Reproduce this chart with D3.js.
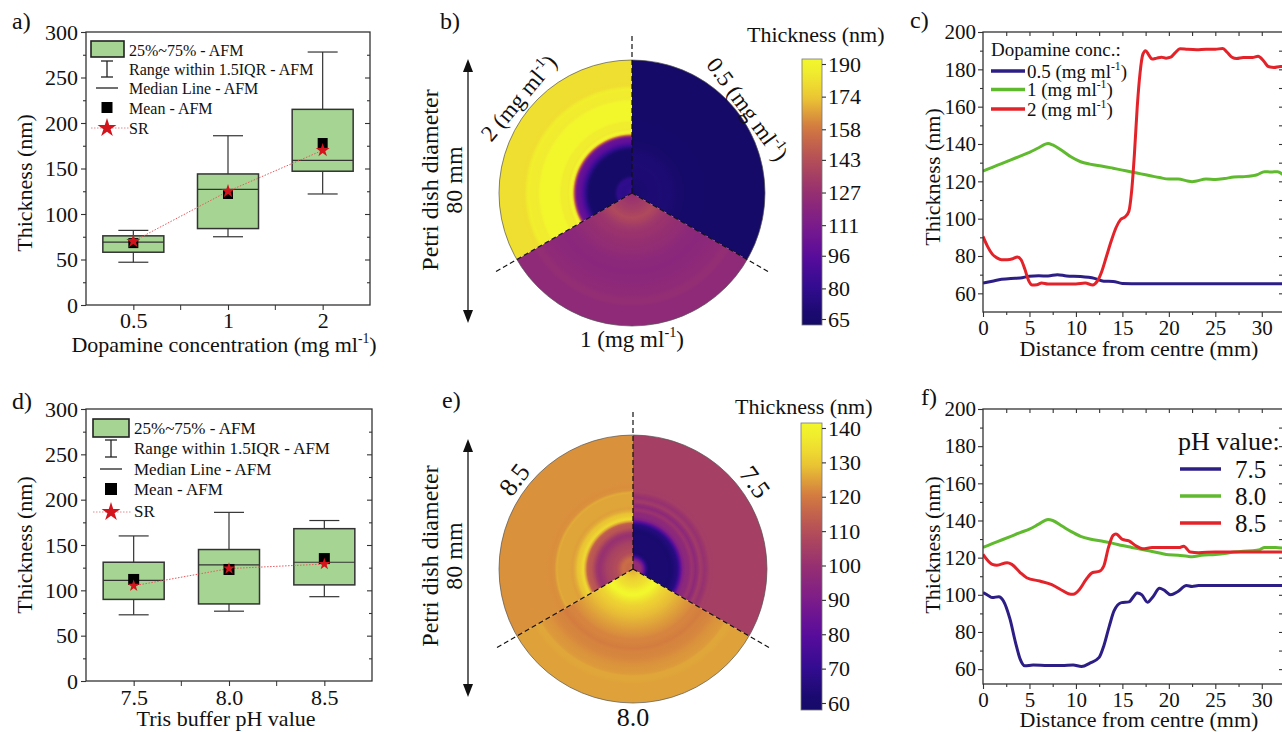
<!DOCTYPE html>
<html>
<head>
<meta charset="utf-8">
<script src="https://cdn.jsdelivr.net/npm/d3@7"></script>
<style>
  body { margin: 0; background: #fff; }
  svg text { font-family: "Liberation Serif", "Times New Roman", serif; fill: #111; }
</style>
</head>
<body>
<svg id="fig" width="1282" height="732"></svg>
<script>
// ---- panel a: box plots vs dopamine concentration ----
const concLabels = ["0.5", "1", "2"];
const concLow = [47, 75, 122];
const concQ1 = [58, 84, 147];
const concMedian = [69, 127, 159];
const concQ3 = [76, 144, 215];
const concHigh = [82, 186, 278];
const concMean = [68, 122, 178];
const concSR = [70, 125, 170];

// ---- panel d: box plots vs Tris buffer pH ----
const phLabels = ["7.5", "8.0", "8.5"];
const phLow = [73, 77, 93];
const phQ1 = [90, 85, 106];
const phMedian = [111, 128, 131];
const phQ3 = [131, 145, 168];
const phHigh = [160, 186, 177];
const phMean = [112, 123, 135];
const phSR = [105, 124, 129];

// ---- radial thickness profiles [distance (mm), thickness (nm)] ----
const prof05 = [[0,65.5],[1,66.5],[2,67.5],[3,68],[4,68.2],[5,69.2],[6,69.4],[7,69.3],[8,70],[9,69.3],[10.5,69],[12,68],[13,66.5],[14,66.4],[15,65.3],[17,65.2],[20,65.2],[25,65.1],[30,65.1],[32.5,65.1]];
const prof1 = [[0,125.5],[1,127.5],[2,129.5],[3,131.5],[4,133.5],[5,135.5],[6,138],[7,140.3],[7.5,139.5],[8.5,136.5],[9.5,133],[10.5,130.5],[11.5,129.2],[13,128],[14,127],[15,126],[16,125],[17,124],[18,123],[19,122],[20,121.2],[21,121.2],[22,120.2],[22.5,119.8],[23,120.2],[24,121.2],[25,121],[26,121.5],[27,122.3],[28,122.5],[29,123],[29.5,123.5],[30.3,125.2],[31,125],[31.7,125.2],[32.5,122.5]];
const prof2 = [[0,90.5],[0.5,85],[1,81],[1.5,79],[2,78],[2.6,78],[3.2,78.5],[3.7,79.5],[4.1,78],[4.5,73],[4.9,67],[5.3,64.5],[5.8,64.6],[6.3,65.5],[7,65],[8,65],[9,65],[10,65],[11,65.5],[11.8,64.5],[12.3,66.5],[12.8,72],[13.3,80],[13.8,88],[14.3,95],[14.8,99.5],[15.3,101],[15.7,104],[16,115],[16.3,135],[16.6,160],[16.9,178],[17.2,188],[17.5,190],[17.8,188],[18.2,185.5],[18.7,186],[19.2,186.5],[19.7,186],[20.2,186.5],[20.7,189],[21.2,191],[22,190.7],[23,190.5],[24,190.7],[25,190.7],[25.8,191.2],[26.3,189],[26.8,186.5],[27.3,185.8],[28,186.3],[29,186.3],[29.6,187],[30.2,184.5],[30.7,181.5],[31.3,181],[32,181.5],[32.5,181.5]];
const prof75 = [[0,101.2],[0.6,99.5],[1,98.5],[1.7,99],[2.2,96.7],[2.9,87],[3.5,74.3],[4,65.4],[4.5,61.8],[5.4,62.2],[7,62],[8.5,62],[9.7,62.2],[10.6,61.4],[11.5,63.2],[12.5,66.3],[13,72.5],[13.6,83.3],[14.1,91.3],[14.9,95.8],[15.7,96.2],[16.6,101],[17.1,100],[17.7,96],[18.3,99],[19,103.5],[19.5,102.5],[20.2,100],[20.9,101.5],[21.9,105],[22.5,104.5],[23.2,105],[25,105],[28,105],[30,105],[32.5,105]];
const prof80 = [[0,125.5],[1,127.5],[2,129.5],[3,131.5],[4,133.5],[5,135.3],[6,138],[7,140.5],[7.5,140],[8.5,137],[9.5,134],[10.5,131.5],[11.5,130],[13,128.7],[14,127.7],[15,126.5],[16,125.5],[17,124.5],[18,123.5],[19,122.5],[20,121.5],[21,121.3],[22,120.7],[22.5,120.5],[23.5,121.3],[25,121.7],[26,122.2],[27,123],[28,123.5],[29,123.7],[29.8,124.3],[30.3,125.5],[31.5,125.5],[32.5,125]];
const prof85 = [[0,121.8],[1,116.4],[1.5,115.9],[2.6,117.3],[3.1,116.4],[4,112],[4.7,109.2],[6.1,107.4],[7.4,105.5],[8.3,103],[9.2,100.6],[9.7,100.3],[10.4,103],[11.1,108.3],[11.8,112],[12.5,112.6],[13,115.5],[13.5,125.4],[14,132],[14.3,132.7],[15,129.8],[15.7,129],[16.5,126.2],[17.2,124.8],[18.2,125.4],[19.7,125.4],[21.1,125.4],[21.6,126.2],[22.3,123],[23.2,122.7],[25,123],[28,123],[30,123],[32.5,123]];

// ---- colour bar tick labels ----
const cbTicksB = [65, 80, 96, 111, 127, 143, 158, 174, 190];
const cbTicksE = [60, 70, 80, 90, 100, 110, 120, 130, 140];

const FONT = '"Liberation Serif", "Times New Roman", serif';
const svg = d3.select("#fig");
const defs = svg.append("defs");
svg.append("rect").attr("width", 1282).attr("height", 732).attr("fill", "#fff");

const ink = "#333";
const boxFill = "#a6d593";
const starColor = "#d3141c";
const lineBlue = "#2d1e85", lineGreen = "#5fba2e", lineRed = "#e3232a";
const dishMM = 38; // radius of the drawn dish in mm

const plasmaLike = d3.piecewise(d3.interpolateRgb, ["#150a68", "#320c90", "#5a0c9c", "#7c1c8a", "#973070", "#b44e58", "#d27840", "#eccb33", "#f2f72c"]);

function styleAxis(sel, fs) {
  sel.attr("font-size", fs).attr("font-family", null);
  sel.select(".domain").remove();
  sel.selectAll(".tick line").attr("stroke", ink).attr("stroke-width", 1.1);
}

function mgText(t, prefix, size) {
  t.append("tspan").text(prefix + "(mg ml");
  t.append("tspan").attr("dy", -size * 0.42).attr("font-size", size * 0.62).text("-1");
  t.append("tspan").attr("dy", size * 0.42).text(")");
}

function panelLabel(x, y, s) {
  svg.append("text").attr("x", x).attr("y", y).attr("font-size", 24).text(s);
}

// ================= box plot panels =================
function boxPanel(o) {
  const g = svg.append("g");
  const x = d3.scalePoint().domain(o.cats).range([o.left, o.right]).padding(0.5);
  const y = d3.scaleLinear().domain([0, 300]).range([o.bottom, o.top]);

  g.append("g").attr("transform", `translate(${o.left},0)`)
    .call(d3.axisLeft(y).tickValues(d3.range(0, 301, 50)).tickSize(5).tickPadding(3))
    .call(styleAxis, 22);
  g.append("g").attr("transform", `translate(${o.left},0)`)
    .call(d3.axisLeft(y).tickValues(d3.range(25, 300, 50)).tickSize(3).tickFormat(""))
    .call(styleAxis, 0);
  g.append("g").attr("transform", `translate(${o.right},0)`)
    .call(d3.axisLeft(y).tickValues(d3.range(50, 300, 50)).tickSize(5).tickFormat(""))
    .call(styleAxis, 0);
  g.append("g").attr("transform", `translate(${o.right},0)`)
    .call(d3.axisLeft(y).tickValues(d3.range(25, 300, 50)).tickSize(3).tickFormat(""))
    .call(styleAxis, 0);
  g.append("g").attr("transform", `translate(0,${o.bottom})`)
    .call(d3.axisBottom(x).tickSize(5).tickPadding(o.xPad))
    .call(styleAxis, 22);
  g.selectAll("line.mid").data(o.cats.slice(1)).join("line")
    .attr("x1", d => x(d) - x.step() / 2).attr("x2", d => x(d) - x.step() / 2)
    .attr("y1", o.bottom).attr("y2", o.bottom + 5).attr("stroke", ink);

  const rows = o.cats.map((c, i) => ({
    c, lo: o.lo[i], q1: o.q1[i], med: o.med[i], q3: o.q3[i], hi: o.hi[i], mean: o.mean[i], sr: o.sr[i]
  }));
  const bw = 61, cap = 30;
  const b = g.append("g").attr("stroke", ink).attr("stroke-width", 1.2);
  b.selectAll("line.wu").data(rows).join("line")
    .attr("x1", d => x(d.c)).attr("x2", d => x(d.c)).attr("y1", d => y(d.hi)).attr("y2", d => y(d.q3));
  b.selectAll("line.wl").data(rows).join("line")
    .attr("x1", d => x(d.c)).attr("x2", d => x(d.c)).attr("y1", d => y(d.lo)).attr("y2", d => y(d.q1));
  b.selectAll("line.cu").data(rows).join("line")
    .attr("x1", d => x(d.c) - cap / 2).attr("x2", d => x(d.c) + cap / 2).attr("y1", d => y(d.hi)).attr("y2", d => y(d.hi));
  b.selectAll("line.cl").data(rows).join("line")
    .attr("x1", d => x(d.c) - cap / 2).attr("x2", d => x(d.c) + cap / 2).attr("y1", d => y(d.lo)).attr("y2", d => y(d.lo));
  b.selectAll("rect").data(rows).join("rect")
    .attr("x", d => x(d.c) - bw / 2).attr("width", bw)
    .attr("y", d => y(d.q3)).attr("height", d => y(d.q1) - y(d.q3))
    .attr("fill", boxFill).attr("stroke-width", 1.5);
  b.selectAll("line.md").data(rows).join("line")
    .attr("x1", d => x(d.c) - bw / 2).attr("x2", d => x(d.c) + bw / 2).attr("y1", d => y(d.med)).attr("y2", d => y(d.med));

  g.append("path").datum(rows)
    .attr("d", d3.line().x(d => x(d.c)).y(d => y(d.sr)))
    .attr("fill", "none").attr("stroke", "#e8585c").attr("stroke-width", 1).attr("stroke-dasharray", "1.5,1.5");
  g.selectAll("rect.mean").data(rows).join("rect")
    .attr("x", d => x(d.c) - o.sq / 2).attr("y", d => y(d.mean) - o.sq / 2)
    .attr("width", o.sq).attr("height", o.sq).attr("fill", "#000");
  g.selectAll("path.star").data(rows).join("path")
    .attr("transform", d => `translate(${x(d.c)},${y(d.sr)})`)
    .attr("d", d3.symbol(d3.symbolStar, o.starSize)).attr("fill", starColor);

  g.append("rect").attr("x", o.left).attr("y", o.top)
    .attr("width", o.right - o.left).attr("height", o.bottom - o.top)
    .attr("fill", "none").attr("stroke", ink).attr("stroke-width", 1.3);

  // axis titles
  g.append("text").attr("transform", `translate(32,${o.yTitleY}) rotate(-90)`)
    .attr("text-anchor", "middle").attr("font-size", 22).text("Thickness (nm)");
  const xt = g.append("text").attr("x", o.xTitleX).attr("y", o.xTitleY)
    .attr("text-anchor", "middle").attr("font-size", 22);
  if (o.xTitleSup) mgText(xt, "Dopamine concentration ", 22);
  else xt.text(o.xTitle);

  // legend
  const L = o.leg, lg = g.append("g");
  lg.append("rect").attr("x", L.bx).attr("y", L.by).attr("width", L.bw).attr("height", L.bh)
    .attr("fill", boxFill).attr("stroke", "#222").attr("stroke-width", 1.6);
  lg.append("line").attr("x1", L.ix).attr("x2", L.ix).attr("y1", L.w0).attr("y2", L.w1).attr("stroke", "#222").attr("stroke-width", 1.3);
  [L.w0, L.w1].forEach(v => lg.append("line").attr("x1", L.ix - 6).attr("x2", L.ix + 6)
    .attr("y1", v).attr("y2", v).attr("stroke", "#222").attr("stroke-width", 1.3));
  lg.append("line").attr("x1", L.ix - 11).attr("x2", L.ix + 11).attr("y1", L.medY).attr("y2", L.medY)
    .attr("stroke", "#222").attr("stroke-width", 1.3);
  lg.append("rect").attr("x", L.ix - L.sq / 2).attr("y", L.meanY - L.sq / 2)
    .attr("width", L.sq).attr("height", L.sq).attr("fill", "#000");
  lg.append("line").attr("x1", L.bx).attr("x2", L.bx + 38).attr("y1", L.srY).attr("y2", L.srY)
    .attr("stroke", "#e8898c").attr("stroke-width", 1).attr("stroke-dasharray", "1.5,1.5");
  lg.append("path").attr("transform", `translate(${L.ix},${L.srY})`)
    .attr("d", d3.symbol(d3.symbolStar, 110)).attr("fill", starColor);
  const legTexts = ["25%~75% - AFM", "Range within 1.5IQR - AFM", "Median Line - AFM", "Mean - AFM", "SR"];
  lg.selectAll("text").data(legTexts).join("text")
    .attr("x", L.tx).attr("y", (d, i) => L.rows[i])
    .attr("font-size", L.fs).text(d => d);
}

boxPanel({
  cats: concLabels, lo: concLow, q1: concQ1, med: concMedian, q3: concQ3, hi: concHigh, mean: concMean, sr: concSR,
  left: 86, right: 370, top: 32, bottom: 305, xPad: 2, sq: 10, starSize: 60,
  yTitleY: 183, xTitleX: 224, xTitleY: 352, xTitleSup: true,
  leg: { bx: 91, by: 41, bw: 33, bh: 16, ix: 107, w0: 61, w1: 77, medY: 88, meanY: 107.5, sq: 11, srY: 128,
         tx: 129, fs: 16, rows: [55.5, 74.5, 93.5, 113.5, 133.5] }
});
boxPanel({
  cats: phLabels, lo: phLow, q1: phQ1, med: phMedian, q3: phQ3, hi: phHigh, mean: phMean, sr: phSR,
  left: 86, right: 372, top: 409, bottom: 681, xPad: 3, sq: 11, starSize: 45,
  yTitleY: 545, xTitleX: 226, xTitleY: 726, xTitle: "Tris buffer pH value",
  leg: { bx: 93, by: 419, bw: 36, bh: 18, ix: 111, w0: 440, w1: 457, medY: 469, meanY: 489, sq: 12, srY: 512,
         tx: 134, fs: 17, rows: [434, 454, 475, 495, 517] }
});
panelLabel(12, 29, "a)");
panelLabel(12, 409, "d)");

// ================= profile panels =================
function linePanel(o) {
  const g = svg.append("g");
  const left = 983, right = 1285;
  const x = d3.scaleLinear().domain([0, 32.5]).range([left, right]);
  const y = d3.scaleLinear().domain([o.yMin, 200]).range([o.bottom, o.top]);

  g.append("g").attr("transform", `translate(${left},0)`)
    .call(d3.axisLeft(y).tickValues(d3.range(60, 201, 20)).tickSize(5).tickPadding(2))
    .call(styleAxis, 21);
  g.append("g").attr("transform", `translate(${left},0)`)
    .call(d3.axisLeft(y).tickValues(d3.range(70, 200, 20)).tickSize(3).tickFormat(""))
    .call(styleAxis, 0);
  g.append("g").attr("transform", `translate(${right - 2},0)`)
    .call(d3.axisLeft(y).tickValues(d3.range(60, 200, 10)).tickSize(4).tickFormat(""))
    .call(styleAxis, 0);
  g.append("g").attr("transform", `translate(0,${o.bottom})`)
    .call(d3.axisBottom(x).tickValues(d3.range(0, 31, 5)).tickSize(5).tickPadding(3))
    .call(styleAxis, 21);
  g.append("g").attr("transform", `translate(0,${o.bottom})`)
    .call(d3.axisBottom(x).tickValues(d3.range(2.5, 33, 5)).tickSize(3).tickFormat(""))
    .call(styleAxis, 0);
  g.append("g").attr("transform", `translate(0,${o.top})`)
    .call(d3.axisBottom(x).tickValues(d3.range(2.5, 33, 2.5)).tickSize(4).tickFormat(""))
    .call(styleAxis, 0);

  const clipId = "clip" + o.id;
  defs.append("clipPath").attr("id", clipId).append("rect")
    .attr("x", left).attr("y", o.top).attr("width", right - left).attr("height", o.bottom - o.top);
  const line = d3.line().x(d => x(d[0])).y(d => y(d[1])).curve(d3.curveMonotoneX);
  g.append("g").attr("clip-path", `url(#${clipId})`)
    .selectAll("path").data(o.series).join("path")
    .attr("d", d => line(d.data)).attr("fill", "none")
    .attr("stroke", d => d.color).attr("stroke-width", 3).attr("stroke-linejoin", "round");

  g.append("rect").attr("x", left).attr("y", o.top)
    .attr("width", right - left).attr("height", o.bottom - o.top)
    .attr("fill", "none").attr("stroke", ink).attr("stroke-width", 1.3);

  g.append("text").attr("transform", `translate(940,${o.yTitleY}) rotate(-90)`)
    .attr("text-anchor", "middle").attr("font-size", 22).text("Thickness (nm)");
  g.append("text").attr("x", 1139).attr("y", o.xTitleY)
    .attr("text-anchor", "middle").attr("font-size", 22).text("Distance from centre (mm)");

  // legend
  const L = o.leg;
  g.append("text").attr("x", L.tx0).attr("y", L.titleY).attr("font-size", L.titleFs).text(L.title);
  o.series.forEach((s, i) => {
    g.append("line").attr("x1", L.x0).attr("x2", L.x1).attr("y1", L.rows[i]).attr("y2", L.rows[i])
      .attr("stroke", s.color).attr("stroke-width", 3.5);
    const t = g.append("text").attr("x", L.lx).attr("y", L.rows[i] + L.off).attr("font-size", L.fs);
    if (L.sup) mgText(t, s.name + " ", L.fs);
    else t.text(s.name);
  });
}

linePanel({
  id: "c", yMin: 50, top: 32, bottom: 312, yTitleY: 177, xTitleY: 356,
  series: [
    { name: "0.5", data: prof05, color: lineBlue },
    { name: "1", data: prof1, color: lineGreen },
    { name: "2", data: prof2, color: lineRed }
  ],
  leg: { title: "Dopamine conc.:", tx0: 991, titleY: 56, titleFs: 19, x0: 991, x1: 1025, lx: 1027,
         rows: [71, 89.5, 109], off: 6.5, fs: 19, sup: true }
});
linePanel({
  id: "f", yMin: 52, top: 409, bottom: 684, yTitleY: 545, xTitleY: 727,
  series: [
    { name: "7.5", data: prof75, color: lineBlue },
    { name: "8.0", data: prof80, color: lineGreen },
    { name: "8.5", data: prof85, color: lineRed }
  ],
  leg: { title: "pH value:", tx0: 1178, titleY: 450, titleFs: 26, x0: 1180, x1: 1221, lx: 1235,
         rows: [469, 496, 523], off: 8.5, fs: 25, sup: false }
});
panelLabel(910, 28, "c)");
panelLabel(921, 405, "f)");

// ================= polar heat maps =================
function polarPanel(o) {
  const color = d3.scaleSequential(plasmaLike).domain(o.dom).clamp(true);
  const g = svg.append("g").attr("transform", `translate(${o.cx},${o.cy})`);
  const arc = d3.arc().innerRadius(0).outerRadius(o.R);
  o.sectors.forEach((s, i) => {
    const id = "grad" + o.id + i;
    const grad = defs.append("radialGradient").attr("id", id)
      .attr("gradientUnits", "userSpaceOnUse").attr("cx", 0).attr("cy", 0).attr("fx", 0).attr("fy", 0).attr("r", o.R);
    s.data.forEach(d => grad.append("stop")
      .attr("offset", Math.min(d[0] / dishMM, 1)).attr("stop-color", color(d[1])));
    grad.append("stop").attr("offset", 1).attr("stop-color", color(s.data[s.data.length - 1][1]));
    g.append("path").attr("d", arc({ startAngle: s.a0, endAngle: s.a1 })).attr("fill", `url(#${id})`);
  });
  g.append("circle").attr("r", o.R).attr("fill", "none").attr("stroke", "#555").attr("stroke-width", 0.7);
  [0, 120, 240].forEach(a => {
    const r = a * Math.PI / 180;
    g.append("line").attr("x1", 0).attr("y1", 0)
      .attr("x2", 160 * Math.sin(r)).attr("y2", -160 * Math.cos(r))
      .attr("stroke", "#111").attr("stroke-width", 1.2).attr("stroke-dasharray", "5,3");
  });
  // sector labels
  o.labels.forEach(l => {
    const t = g.append("text").attr("transform", `rotate(${l.ang}) translate(0,${-l.r})`)
      .attr("text-anchor", "middle").attr("font-size", o.labFs);
    if (o.sup) mgText(t, l.text + " ", o.labFs); else t.text(l.text);
  });
  const bt = svg.append("text").attr("x", o.cx).attr("y", o.bottomY)
    .attr("text-anchor", "middle").attr("font-size", o.labFs);
  if (o.sup) mgText(bt, o.bottomText + " ", o.labFs); else bt.text(o.bottomText);

  // diameter arrow and label
  const ax = 468;
  svg.append("line").attr("x1", ax).attr("x2", ax).attr("y1", o.ay0 + 8).attr("y2", o.ay1 - 8)
    .attr("stroke", "#111").attr("stroke-width", 1.3);
  svg.append("path").attr("d", `M${ax},${o.ay0}L${ax - 5},${o.ay0 + 13}L${ax + 5},${o.ay0 + 13}Z`).attr("fill", "#111");
  svg.append("path").attr("d", `M${ax},${o.ay1}L${ax - 5},${o.ay1 - 13}L${ax + 5},${o.ay1 - 13}Z`).attr("fill", "#111");
  svg.append("text").attr("transform", `translate(438,${o.cy - 13}) rotate(-90)`)
    .attr("text-anchor", "middle").attr("font-size", 24).text("Petri dish diameter");
  svg.append("text").attr("transform", `translate(462,${o.cy - 13}) rotate(-90)`)
    .attr("text-anchor", "middle").attr("font-size", 24).text("80 mm");

  // colour bar
  const cb = o.cb;
  const yb = d3.scaleLinear().domain(o.dom).range([cb.y1, cb.y0]);
  const gid = "cbar" + o.id;
  const lin = defs.append("linearGradient").attr("id", gid).attr("x1", 0).attr("x2", 0).attr("y1", 1).attr("y2", 0);
  const vb = yb.invert(cb.bot), vt = yb.invert(cb.top);
  d3.range(0, 1.0001, 0.05).forEach(t => lin.append("stop").attr("offset", t).attr("stop-color", color(vb + t * (vt - vb))));
  svg.append("rect").attr("x", cb.x).attr("y", cb.top).attr("width", cb.w).attr("height", cb.bot - cb.top)
    .attr("fill", `url(#${gid})`).attr("stroke", "#777").attr("stroke-width", 0.8);
  svg.append("g").attr("transform", `translate(${cb.x + cb.w},0)`)
    .call(d3.axisRight(yb).tickValues(o.ticks).tickSize(4).tickPadding(2).tickFormat(d3.format("d")))
    .call(styleAxis, 22);
  svg.append("text").attr("x", o.titleX).attr("y", o.titleY).attr("font-size", 22).text("Thickness (nm)");
}

polarPanel({
  id: "b", cx: 632, cy: 193, R: 133, dom: [65, 190], ticks: cbTicksB, sup: true, labFs: 23,
  sectors: [
    { data: prof05, a0: 0, a1: 2 * Math.PI / 3 },
    { data: prof1, a0: 2 * Math.PI / 3, a1: 4 * Math.PI / 3 },
    { data: prof2, a0: 4 * Math.PI / 3, a1: 2 * Math.PI }
  ],
  labels: [{ text: "2", ang: -50, r: 140 }, { text: "0.5", ang: 54, r: 135 }],
  bottomText: "1", bottomY: 347,
  ay0: 59, ay1: 323,
  cb: { x: 802, w: 20, top: 59, bot: 325, y0: 64, y1: 319 },
  titleX: 747, titleY: 42
});
polarPanel({
  id: "e", cx: 633, cy: 569, R: 134, dom: [60, 140], ticks: cbTicksE, sup: false, labFs: 26,
  sectors: [
    { data: prof75, a0: 0, a1: 2 * Math.PI / 3 },
    { data: prof80, a0: 2 * Math.PI / 3, a1: 4 * Math.PI / 3 },
    { data: prof85, a0: 4 * Math.PI / 3, a1: 2 * Math.PI }
  ],
  labels: [{ text: "8.5", ang: -53, r: 140 }, { text: "7.5", ang: 54.5, r: 141 }],
  bottomText: "8.0", bottomY: 726,
  ay0: 439, ay1: 697,
  cb: { x: 801, w: 21, top: 423, bot: 710, y0: 428, y1: 703 },
  titleX: 735, titleY: 414
});
panelLabel(440, 29, "b)");
panelLabel(442, 408, "e)");

// serif everywhere, including the axis generator's text
svg.selectAll("text").style("font-family", FONT);
</script>
</body>
</html>
